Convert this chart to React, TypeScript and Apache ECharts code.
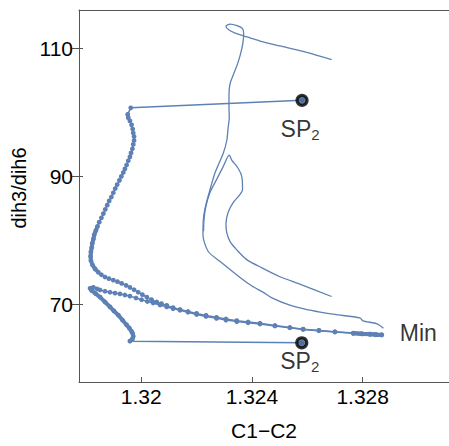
import React, { useEffect, useRef } from "react";
import * as echarts from "echarts";

const xTicks = [1.32, 1.324, 1.328];
const xTickLabels = ["1.32", "1.324", "1.328"];
const yTicks = [70, 90, 110];
const yTickLabels = ["70", "90", "110"];

// dynamics trajectory
const trajMain: number[][] = [
  [1.32688, 108.21], [1.32598, 109.34], [1.32501, 110.35], [1.32429, 111.11], [1.32393, 111.6], [1.32369, 111.91],
  [1.32342, 112.29], [1.32317, 112.82], [1.32306, 113.43], [1.32321, 113.74], [1.32346, 113.51], [1.32366, 113.05],
  [1.3237, 112.29], [1.32369, 111.37], [1.32363, 109.85], [1.3235, 107.82], [1.32332, 105.77], [1.32321, 104.5],
  [1.32317, 102.72], [1.32317, 100.69], [1.32318, 99.16], [1.32314, 97.63], [1.32309, 95.6], [1.32296, 93.56],
  [1.32266, 90.5], [1.32242, 86.95], [1.3223, 84.92], [1.32224, 83.13], [1.32223, 80.84], [1.32242, 78.29],
  [1.32284, 76.76], [1.32357, 74.23], [1.324, 72.9], [1.32441, 71.91], [1.32472, 71.07], [1.32537, 69.92],
  [1.32592, 69.31], [1.32646, 68.85], [1.327, 68.47], [1.3279, 67.94], [1.32801, 67.48], [1.32852, 67.02], [1.32875, 66.34],
];

const trajBranch: number[][] = [
  [1.32688, 71.27], [1.32573, 73.21], [1.32501, 74.35], [1.32436, 75.73], [1.32381, 77.02], [1.32345, 78.55],
  [1.32321, 79.82], [1.32309, 81.22], [1.32306, 82.63], [1.32314, 84.4], [1.32332, 85.92], [1.32357, 87.21],
  [1.32366, 87.97], [1.32363, 90.0], [1.3235, 91.27], [1.32327, 92.55], [1.32318, 93.31], [1.32296, 91.53],
  [1.32272, 89.5], [1.32248, 87.45], [1.32234, 85.42], [1.32227, 83.39], [1.32225, 81.45],
];

// IRC path from upper SP2 to Min
const ircUpper: number[][] = [
  [1.32581, 101.86],
  [1.31962, 100.69], [1.31951, 99.67], [1.31953, 99.16], [1.31959, 98.65], [1.31965, 98.04], [1.31969, 97.38],
  [1.31971, 96.77], [1.31974, 96.21], [1.31974, 95.6], [1.31971, 94.99], [1.31968, 94.32], [1.31963, 93.66],
  [1.31959, 93.05], [1.31953, 92.44], [1.31947, 91.78], [1.31941, 91.17], [1.31935, 90.61], [1.31928, 90.0],
  [1.31921, 89.39], [1.31913, 88.73], [1.31906, 88.12], [1.31899, 87.45], [1.31892, 86.79], [1.31884, 86.18],
  [1.31877, 85.52], [1.3187, 84.86], [1.31863, 84.2], [1.31856, 83.54], [1.31848, 82.87], [1.31842, 82.21],
  [1.31836, 81.55], [1.3183, 80.89], [1.31827, 80.23], [1.31823, 79.57], [1.31821, 78.91], [1.31818, 78.24],
  [1.31817, 77.53], [1.31818, 76.87], [1.31824, 76.18], [1.31833, 75.57], [1.31845, 75.04], [1.31856, 74.66],
  [1.31869, 74.32], [1.31883, 74.05], [1.31899, 73.82], [1.31914, 73.59], [1.31929, 73.31], [1.31945, 73.01],
  [1.31959, 72.7], [1.31974, 72.32], [1.31989, 71.94], [1.32004, 71.56], [1.3202, 71.18], [1.32037, 70.79],
  [1.32056, 70.41], [1.32073, 70.15], [1.32092, 69.89], [1.32115, 69.54], [1.3214, 69.24], [1.32169, 68.93],
  [1.322, 68.63], [1.32234, 68.32], [1.32272, 68.02], [1.32306, 67.76], [1.32345, 67.51], [1.32386, 67.3],
  [1.32429, 67.1], [1.32483, 66.75], [1.32537, 66.44], [1.32585, 66.18], [1.32642, 65.98], [1.327, 65.77],
  [1.32766, 65.57], [1.32797, 65.48], [1.32826, 65.42], [1.32848, 65.36], [1.32869, 65.31],
];

// IRC path from lower SP2 to Min
const ircLower: number[][] = [
  [1.3258, 64.05],
  [1.31959, 64.31], [1.31968, 64.66], [1.31971, 65.07], [1.31969, 65.5], [1.31965, 65.83], [1.31957, 66.34],
  [1.31947, 66.84], [1.31932, 67.6], [1.31917, 68.37], [1.31901, 69.02], [1.31887, 69.65], [1.31869, 70.41],
  [1.31851, 71.18], [1.31835, 71.73], [1.31821, 72.18], [1.31815, 72.55], [1.31827, 72.7],
  [1.3184, 72.47], [1.31851, 72.29], [1.31869, 72.09], [1.31887, 71.94], [1.31905, 71.8], [1.31923, 71.68],
  [1.31941, 71.5], [1.31959, 71.33], [1.31981, 71.04], [1.32001, 70.76], [1.32022, 70.5], [1.32043, 70.26],
  [1.32068, 69.95], [1.32092, 69.65], [1.32115, 69.39], [1.3214, 69.13], [1.32169, 68.81], [1.322, 68.47],
  [1.32234, 68.17], [1.32272, 67.86], [1.32306, 67.6], [1.32345, 67.36], [1.32386, 67.18], [1.32429, 66.99],
  [1.32483, 66.67], [1.32537, 66.4], [1.32585, 66.14], [1.32642, 65.94], [1.327, 65.73], [1.32766, 65.53],
  [1.32797, 65.44], [1.32826, 65.37], [1.32848, 65.31], [1.32869, 65.27],
];

const spPoints: number[][] = [
  [1.32581, 101.86],
  [1.3258, 64.05],
];
const minPoint: number[] = [1.32869, 65.31];
const pointLabels = ["SP", "2", "Min"];

const BLUE = "#5E81B5";
const FONT = "'Liberation Sans', Arial, Helvetica, sans-serif";
const TEXT = "#000";

export default function App() {
  const ref = useRef<HTMLDivElement>(null);
  useEffect(() => {
    if (!ref.current) return;
    const chart = echarts.init(ref.current, null, { renderer: "svg" });
    const xMin = 1.31775, xMax = 1.33112, yMin = 57.94, yMax = 115.95;
    const thin = (data: number[][]) => ({
      type: "line", data, showSymbol: false, symbol: "none", silent: true, smooth: 0.25,
      lineStyle: { color: BLUE, width: 1.3 }, z: 2,
    });
    const band = (data: number[][]) => ({
      type: "line", data, showSymbol: false, symbol: "none", silent: true,
      lineStyle: { color: BLUE, width: 4 }, z: 3,
    });
    const dotted = (data: number[][]) => ({
      type: "line", data, symbol: "circle", symbolSize: 4.8, showSymbol: true, showAllSymbol: true, silent: true,
      itemStyle: { color: BLUE }, lineStyle: { color: BLUE, width: 1.5 }, z: 3,
    });
    const spLabel = {
      show: true, position: "bottom", formatter: `{a|${pointLabels[0]}}{b|${pointLabels[1]}}`,
      rich: {
        a: { fontSize: 23, lineHeight: 26, color: TEXT, fontFamily: FONT },
        b: { fontSize: 15, lineHeight: 10, verticalAlign: "bottom", color: TEXT, fontFamily: FONT },
      },
    };
    chart.setOption({
      animation: false,
      backgroundColor: "#fff",
      grid: { left: 79, right: 0, top: 10, bottom: 56, containLabel: false },
      xAxis: [
        {
          type: "value", min: xMin, max: xMax, position: "bottom",
          axisLine: { show: true, lineStyle: { color: "#555", width: 1 } },
          axisTick: { show: true, inside: true, length: 5, customValues: xTicks, lineStyle: { color: "#555" } },
          axisLabel: {
            customValues: xTicks, margin: 4, fontSize: 21, color: TEXT, fontFamily: FONT,
            formatter: (v: number) => xTickLabels[xTicks.findIndex((t) => Math.abs(t - v) < 1e-7)] ?? "",
          },
          splitLine: { show: false },
          name: "C1\u2212C2", nameLocation: "middle", nameGap: 38,
          nameTextStyle: { fontSize: 21, color: TEXT, fontFamily: FONT },
        },
        {
          type: "value", min: xMin, max: xMax, position: "top",
          axisLine: { show: true, lineStyle: { color: "#555", width: 1 } },
          axisTick: { show: false }, axisLabel: { show: false }, splitLine: { show: false },
        },
      ],
      yAxis: [
        {
          type: "value", min: yMin, max: yMax, position: "left",
          axisLine: { show: true, lineStyle: { color: "#555", width: 1 } },
          axisTick: { show: true, inside: false, length: 7, customValues: yTicks, lineStyle: { color: "#555" } },
          axisLabel: {
            customValues: yTicks, margin: 6, fontSize: 21, color: TEXT, fontFamily: FONT,
            formatter: (v: number) => yTickLabels[yTicks.indexOf(v)] ?? "",
          },
          splitLine: { show: false },
          name: "dih3/dih6", nameLocation: "middle", nameGap: 46, nameRotate: 90,
          nameTextStyle: { fontSize: 20, color: TEXT, fontFamily: FONT, padding: [0, 0, 0, 16] },
        },
        {
          type: "value", min: yMin, max: yMax, position: "left", offset: 0,
          axisLine: { show: false },
          axisTick: { show: true, inside: true, length: 4, customValues: yTicks, lineStyle: { color: "#555" } },
          axisLabel: { show: false }, splitLine: { show: false },
        },
      ],
      series: [
        thin(trajMain),
        thin(trajBranch),
        dotted(ircUpper),
        dotted(ircLower),
        band(ircUpper.slice(30, 42)),
        band(ircLower.slice(1, 18)),
        band(ircUpper.slice(-5)),
        band(ircLower.slice(-5)),
        {
          type: "scatter", silent: true, z: 10,
          symbol: "circle", symbolSize: 10,
          itemStyle: { color: "#4a6696", borderColor: "#000", borderWidth: 3.2 },
          data: [
            { value: spPoints[0], label: { ...spLabel, distance: 9, offset: [-2, 0] } },
            { value: spPoints[1], label: { ...spLabel, distance: 0, offset: [-2, -1] } },
          ],
        },
        {
          type: "scatter", silent: true, z: 10, symbolSize: 0.01,
          itemStyle: { color: "transparent" },
          data: [{ value: minPoint }],
          label: {
            show: true, position: "right", distance: 18, offset: [0, -2],
            formatter: pointLabels[2], fontSize: 23, color: TEXT, fontFamily: FONT,
          },
        },
      ],
    });
    return () => chart.dispose();
  }, []);
  return <div ref={ref} style={{ width: 449, height: 446, position: "absolute", left: 0, top: 0 }} />;
}
